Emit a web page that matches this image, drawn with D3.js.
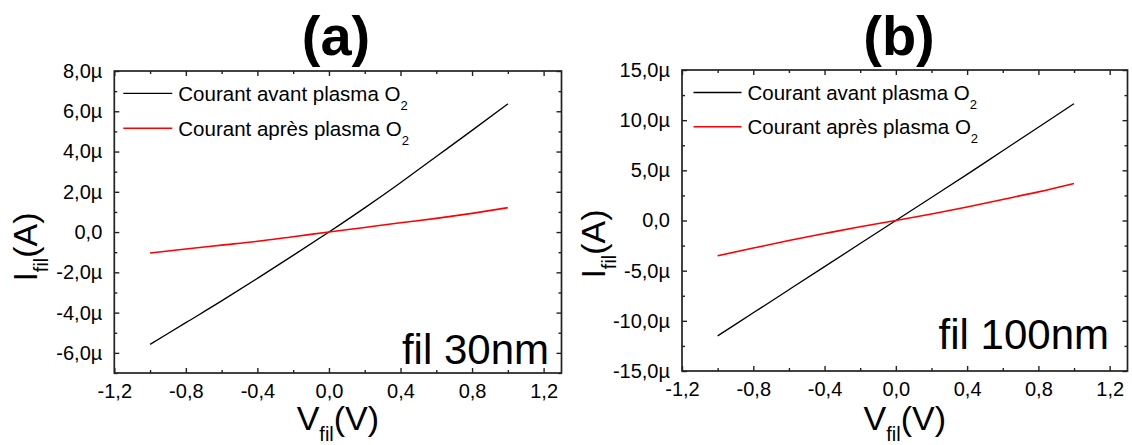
<!DOCTYPE html>
<html>
<head>
<meta charset="utf-8">
<script src="https://cdn.jsdelivr.net/npm/d3@7"></script>
<style>
  html, body { margin: 0; padding: 0; background: #fff; }
  svg { display: block; }
  text { font-family: "Liberation Sans", Arial, sans-serif; fill: #000; }
</style>
</head>
<body>
<svg id="chart" width="1132" height="445"></svg>
<script>
// ---------------- data ----------------
const voltages = [-1.0, -0.8, -0.6, -0.4, -0.2, 0.0, 0.2, 0.4, 0.6, 0.8, 1.0];
// panel (a) fil 30nm, current in µA
const a_before = [-5.58, -4.50, -3.42, -2.30, -1.16, 0.0, 1.20, 2.45, 3.75, 5.05, 6.37];
const a_after  = [-1.04, -0.84, -0.65, -0.46, -0.23, 0.0, 0.23, 0.46, 0.68, 0.93, 1.21];
// panel (b) fil 100nm, current in µA
const b_before = [-11.5, -9.2, -6.9, -4.6, -2.3, 0.0, 2.3, 4.6, 6.95, 9.3, 11.64];
const b_after  = [-3.52, -2.75, -2.0, -1.3, -0.62, 0.0, 0.65, 1.35, 2.1, 2.85, 3.69];

const xTicks = [-1.2, -0.8, -0.4, 0.0, 0.4, 0.8, 1.2];
const xMinor = [-1.0, -0.6, -0.2, 0.2, 0.6, 1.0];
const a_yTicks = [-6, -4, -2, 0, 2, 4, 6, 8];
const a_yMinor = [-7, -5, -3, -1, 1, 3, 5, 7];
const b_yTicks = [-15, -10, -5, 0, 5, 10, 15];
const b_yMinor = [-12.5, -7.5, -2.5, 2.5, 7.5, 12.5];

const seriesNames = ["Courant avant plasma O", "Courant après plasma O"];
const seriesColors = ["#000000", "#ff0000"];
const panelTitles = ["(a)", "(b)"];
const panelNotes = ["fil 30nm", "fil 100nm"];

// ---------------- drawing ----------------
const svg = d3.select("#chart");

function fmtY(d) {
  if (d === 0) return "0,0";
  return d3.format(".1f")(d).replace(".", ",").replace("\u2212", "-") + "\u00b5";
}
function fmtX(d) {
  return d3.format(".1f")(d).replace(".", ",").replace("\u2212", "-");
}

function drawPanel(p) {
  const x = d3.scaleLinear().domain([-1.2, 1.3]).range([p.left, p.right]);
  const y = d3.scaleLinear().domain(p.yDomain).range([p.bottom, p.top]);
  const g = svg.append("g");

  // data lines
  const line = d3.line().x(d => x(d[0])).y(d => y(d[1])).curve(d3.curveMonotoneX);
  p.series.forEach((s, i) => {
    g.append("path")
      .datum(voltages.map((v, k) => [v, s[k]]))
      .attr("fill", "none")
      .attr("stroke", seriesColors[i])
      .attr("stroke-width", i === 0 ? 1.3 : 1.6)
      .attr("d", line);
  });

  // axes (ticks inward) bottom/top/left/right
  const axB = d3.axisBottom(x).tickValues(xTicks).tickSize(-5).tickFormat(fmtX).tickPadding(11);
  const axBm = d3.axisBottom(x).tickValues(xMinor).tickSize(-3).tickFormat("");
  const axT = d3.axisTop(x).tickValues(xTicks).tickSize(-5).tickFormat("");
  const axTm = d3.axisTop(x).tickValues(xMinor).tickSize(-3).tickFormat("");
  const axL = d3.axisLeft(y).tickValues(p.yTicks).tickSize(-5).tickFormat(fmtY).tickPadding(12);
  const axLm = d3.axisLeft(y).tickValues(p.yMinor).tickSize(-3).tickFormat("");
  const axR = d3.axisRight(y).tickValues(p.yTicks).tickSize(-5).tickFormat("");
  const axRm = d3.axisRight(y).tickValues(p.yMinor).tickSize(-3).tickFormat("");

  const place = (ax, tx, ty) => {
    const a = g.append("g").attr("transform", `translate(${tx},${ty})`).call(ax);
    a.selectAll("path.domain").remove();
    a.selectAll("line").attr("stroke", "#222").attr("stroke-width", 1.4);
    a.selectAll("text").attr("font-size", 20).attr("fill", "#000")
      .attr("font-family", "Liberation Sans, Arial, sans-serif");
    return a;
  };
  place(axB, 0, p.bottom); place(axBm, 0, p.bottom);
  place(axT, 0, p.top); place(axTm, 0, p.top);
  place(axL, p.left, 0); place(axLm, p.left, 0);
  place(axR, p.right, 0); place(axRm, p.right, 0);

  // frame
  g.append("rect")
    .attr("x", p.left).attr("y", p.top)
    .attr("width", p.right - p.left).attr("height", p.bottom - p.top)
    .attr("fill", "none").attr("stroke", "#222").attr("stroke-width", 1.7);

  // legend
  seriesNames.forEach((name, i) => {
    const ly = p.legendY[i];
    g.append("line")
      .attr("x1", p.left + p.legendX0).attr("x2", p.left + p.legendX1)
      .attr("y1", ly).attr("y2", ly)
      .attr("stroke", seriesColors[i]).attr("stroke-width", i === 0 ? 1.3 : 1.6);
    const t = g.append("text")
      .attr("x", p.left + p.legendX1 + 6).attr("y", ly + 7.5)
      .attr("font-size", 20.5);
    t.append("tspan").text(name);
    t.append("tspan").attr("font-size", 13).attr("dy", 9).text("2");
  });

  // panel title
  g.append("text")
    .attr("x", p.titleX).attr("y", 55)
    .attr("text-anchor", "middle")
    .attr("font-size", 56).attr("font-weight", "bold")
    .text(p.title);

  // note
  g.append("text")
    .attr("x", p.noteX).attr("y", p.noteY)
    .attr("text-anchor", "end")
    .attr("font-size", 42)
    .text(p.note);

  // x axis title
  const xt = g.append("text")
    .attr("x", (p.left + p.right) / 2).attr("y", 430)
    .attr("text-anchor", "middle").attr("font-size", 34);
  xt.append("tspan").text("V");
  xt.append("tspan").attr("font-size", 20).attr("dy", 11).text("fil");
  xt.append("tspan").attr("dy", -11).text("(V)");

  // y axis title
  const yt = g.append("text")
    .attr("transform", `translate(${p.yLabelX},${p.yLabelY}) rotate(-90)`)
    .attr("text-anchor", "middle").attr("font-size", 34);
  yt.append("tspan").text("I");
  yt.append("tspan").attr("font-size", 20).attr("dy", 11).text("fil");
  yt.append("tspan").attr("dy", -11).text("(A)");
}

drawPanel({
  left: 114.3, right: 561.5, top: 71, bottom: 373,
  yDomain: [-7, 8], yTicks: a_yTicks, yMinor: a_yMinor,
  series: [a_before, a_after],
  legendX0: 9, legendX1: 58, legendY: [93.3, 128.3],
  title: panelTitles[0], titleX: 336,
  note: panelNotes[0], noteX: 549, noteY: 364,
  yLabelX: 37, yLabelY: 247
});

drawPanel({
  left: 682, right: 1127.5, top: 70, bottom: 371,
  yDomain: [-15, 15], yTicks: b_yTicks, yMinor: b_yMinor,
  series: [b_before, b_after],
  legendX0: 11.5, legendX1: 59.5, legendY: [92.5, 126.7],
  title: panelTitles[1], titleX: 899,
  note: panelNotes[1], noteX: 1109, noteY: 349,
  yLabelX: 605, yLabelY: 244
});
</script>
</body>
</html>
